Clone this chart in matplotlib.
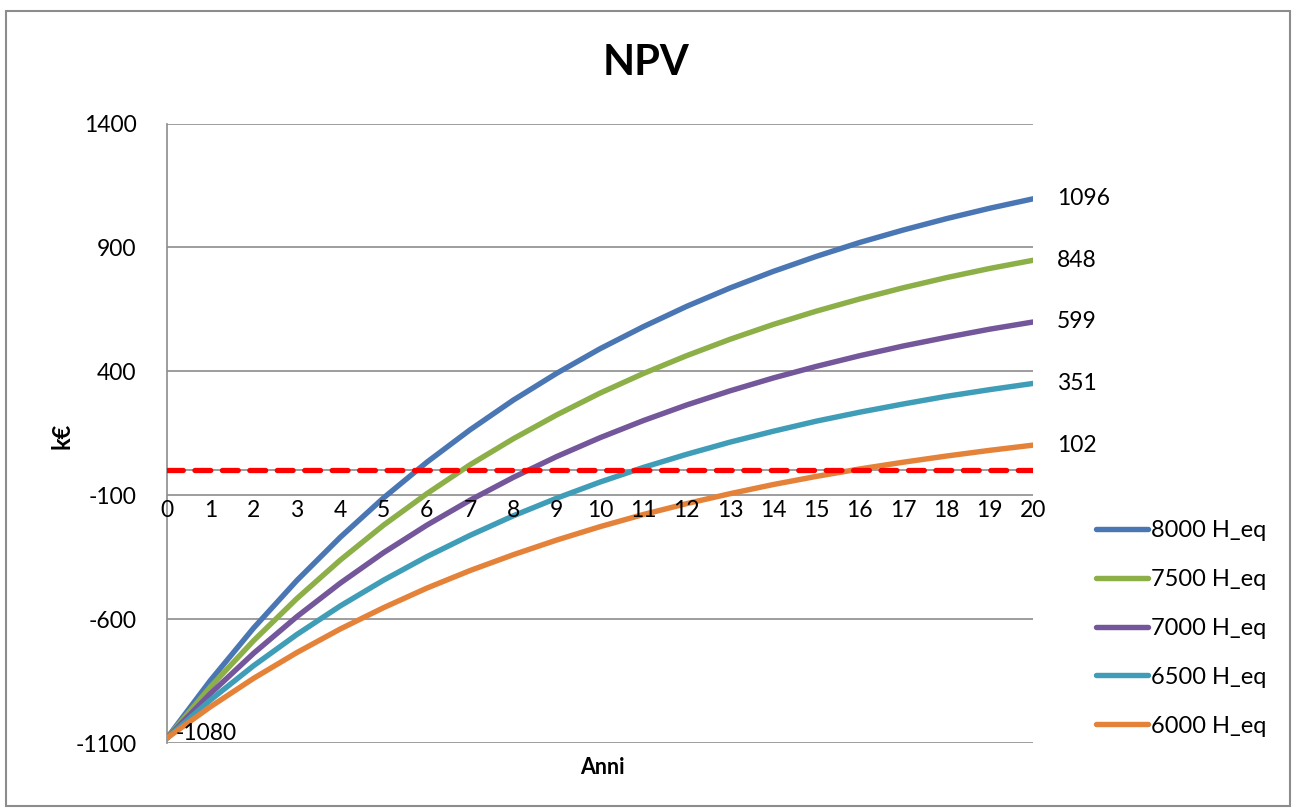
import matplotlib
matplotlib.use("Agg")
import matplotlib.pyplot as plt
from matplotlib.patches import Rectangle

plt.rcParams['font.family'] = ['Lato', 'DejaVu Sans']

years = list(range(21))

npv_8000 = [-1080, -848, -636, -444, -270, -111, 33, 164, 284, 392, 491,
            580, 662, 736, 803, 864, 920, 970, 1016, 1058, 1096]
npv_7500 = [-1080, -874, -687, -517, -362, -221, -94, 23, 128, 224, 312,
            391, 463, 529, 589, 643, 692, 737, 778, 815, 848]
npv_7000 = [-1080, -901, -738, -590, -455, -332, -221, -120, -28, 56, 132,
            201, 264, 321, 373, 420, 463, 502, 537, 570, 599]
npv_6500 = [-1080, -927, -788, -662, -547, -443, -348, -262, -183, -112, -47,
            12, 65, 114, 158, 199, 235, 268, 299, 326, 351]
npv_6000 = [-1080, -954, -839, -735, -640, -554, -475, -404, -340, -281, -227,
            -178, -134, -94, -57, -24, 6, 33, 58, 81, 102]

series_labels = ["8000 H_eq", "7500 H_eq", "7000 H_eq", "6500 H_eq", "6000 H_eq"]
series_values = [npv_8000, npv_7500, npv_7000, npv_6500, npv_6000]
series_colors = ["#4A77B4", "#8CAF48", "#74569A", "#3F9DB8", "#E5823A"]

y_ticks = [-1100, -600, -100, 400, 900, 1400]
break_even = 0

W, H = 1293, 808
fig = plt.figure(figsize=(W / 100, H / 100), dpi=100)
fig.patch.set_facecolor("white")

# chart-area frame
fig.add_artist(Rectangle((6 / W, 2 / H), 1284 / W, 795 / H,
                         transform=fig.transFigure, fill=False,
                         edgecolor="#8C8C8C", linewidth=1.5))

ax = fig.add_axes([167 / W, 1 - 743 / H, (1033 - 167) / W, (743 - 123.5) / H])
ax.set_xlim(0, 20)
ax.set_ylim(-1100, 1400)

grid_c = "#8C8C8C"
for v in y_ticks:
    ax.axhline(v, color=grid_c, linewidth=1.2, zorder=1)

for side in ["top", "right", "bottom"]:
    ax.spines[side].set_visible(False)
ax.spines["left"].set_color(grid_c)
ax.spines["left"].set_linewidth(1.2)

ax.set_yticks(y_ticks)
ax.set_yticklabels([str(v) for v in y_ticks], fontsize=16.5)
ax.tick_params(axis="y", length=0, pad=22)
ax.set_xticks([])

# category labels sit just under the -100 line where the horizontal axis crosses
for x in years:
    ax.text(x, -100 - 18, str(x), ha="center", va="top", fontsize=16.5, zorder=6)

# break-even reference
ax.axhline(break_even, color="#8C8C8C", linewidth=1.2, zorder=2)
ax.plot([0, 20], [break_even, break_even], color="#FF0000", linewidth=3.8,
        dashes=(3, 2.2), solid_capstyle="round", dash_capstyle="round", zorder=5)

for vals, lab, col in zip(series_values, series_labels, series_colors):
    ax.plot(years, vals, color=col, linewidth=3.9, label=lab,
            solid_capstyle="round", zorder=4)
    ax.annotate(str(vals[-1]), xy=(years[-1], vals[-1]), xytext=(17, 0),
                textcoords="offset points", ha="left", va="center",
                fontsize=16.5, annotation_clip=False)

ax.annotate(str(npv_6000[0]), xy=(years[0], npv_6000[0]), xytext=(6, 3),
            textcoords="offset points", ha="left", va="center", fontsize=16.5,
            zorder=6)

fig.text(62 / W, 1 - 436 / H, "k€", rotation=90, ha="center", va="center",
         fontsize=17, fontweight="bold")
fig.text(602 / W, 1 - 767 / H, "Anni", ha="center", va="center",
         fontsize=15.5, fontweight="bold")
fig.text(0.5, 1 - 63 / H, "NPV", ha="center", va="center",
         fontsize=30, fontweight="bold")

leg = ax.legend(loc="upper left", bbox_to_anchor=(1.062, 0.375), frameon=False,
                fontsize=17, handlelength=2.2, handletextpad=0.12,
                labelspacing=1.18, borderaxespad=0)

fig.savefig("out.png", dpi=100, facecolor="white")
